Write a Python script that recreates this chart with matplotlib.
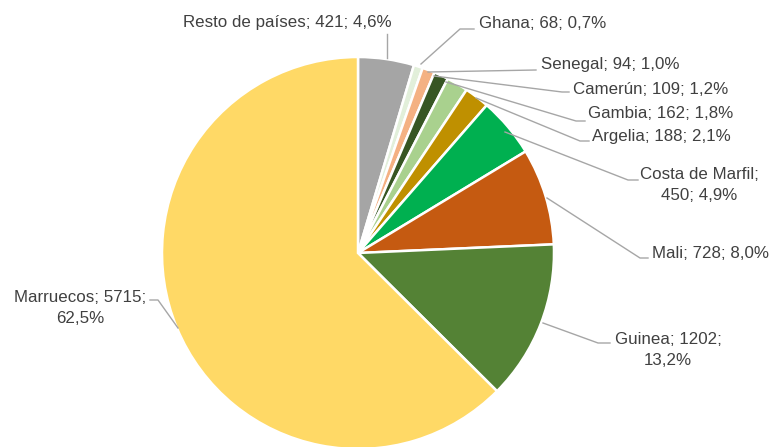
import matplotlib
matplotlib.use("Agg")
import matplotlib.pyplot as plt

# Data (clockwise from 12 o'clock)
paises = ["Resto de países", "Ghana", "Senegal", "Camerún", "Gambia",
          "Argelia", "Costa de Marfil", "Mali", "Guinea", "Marruecos"]
valores = [421, 68, 94, 109, 162, 188, 450, 728, 1202, 5715]
porcentajes = ["4,6%", "0,7%", "1,0%", "1,2%", "1,8%",
               "2,1%", "4,9%", "8,0%", "13,2%", "62,5%"]
colores = ["#A5A5A5", "#E2EFDA", "#F4B183", "#375623", "#A9D18E",
           "#BF9000", "#00B050", "#C55A11", "#548235", "#FFD966"]

W, H = 769, 447
fig = plt.figure(figsize=(W / 100, H / 100), dpi=100)
ax = fig.add_axes([0, 0, 1, 1])

cx, cy, r = 358, H - 253, 196
ax.pie(valores, colors=colores, startangle=90, counterclock=False,
       center=(cx, cy), radius=r,
       wedgeprops=dict(edgecolor="white", linewidth=1.8))
ax.set_xlim(0, W)
ax.set_ylim(0, H)
ax.set_aspect("equal")
ax.axis("off")

# label positions (text anchor, alignment) and leader lines, in pixels from top-left
etiquetas = {
    "Resto de países": dict(xy=(392, 22), ha="right", linea=[(387, 58), (387, 34)]),
    "Ghana": dict(xy=(479, 24), ha="left", linea=[(421, 64), (460, 29), (474, 29)]),
    "Senegal": dict(xy=(541, 64), ha="left", linea=[(428, 72), (536, 70)]),
    "Camerún": dict(xy=(573, 89), ha="left", linea=[(434, 76), (562, 92), (569, 92)]),
    "Gambia": dict(xy=(588, 113), ha="left", linea=[(446, 82), (576, 121), (585, 121)]),
    "Argelia": dict(xy=(592, 137), ha="left", linea=[(476, 98), (580, 141), (589, 141)]),
    "Costa de Marfil": dict(xy=(699, 185), ha="center", linea=[(505, 132), (628, 180), (638, 180)]),
    "Mali": dict(xy=(652, 254), ha="left", linea=[(547, 198), (640, 258), (648, 258)]),
    "Guinea": dict(xy=(668, 350), ha="center", linea=[(543, 323), (598, 343), (610, 343)]),
    "Marruecos": dict(xy=(80, 308), ha="center", linea=[(178, 328), (158, 300), (150, 300)]),
}

for pais, v, p in zip(paises, valores, porcentajes):
    cfg = etiquetas[pais]
    if pais == "Costa de Marfil":
        texto = f"{pais};\n{v}; {p}"
    elif pais in ("Guinea", "Marruecos"):
        texto = f"{pais}; {v};\n{p}"
    else:
        texto = f"{pais}; {v}; {p}"
    x, y = cfg["xy"]
    ax.text(x, H - y, texto, ha=cfg["ha"], va="center", fontsize=12.2,
            color="#404040", family="Liberation Sans", linespacing=1.45)
    xs = [pt[0] for pt in cfg["linea"]]
    ys = [H - pt[1] for pt in cfg["linea"]]
    ax.plot(xs, ys, color="#A6A6A6", linewidth=1)

fig.savefig("out.png", dpi=100)
